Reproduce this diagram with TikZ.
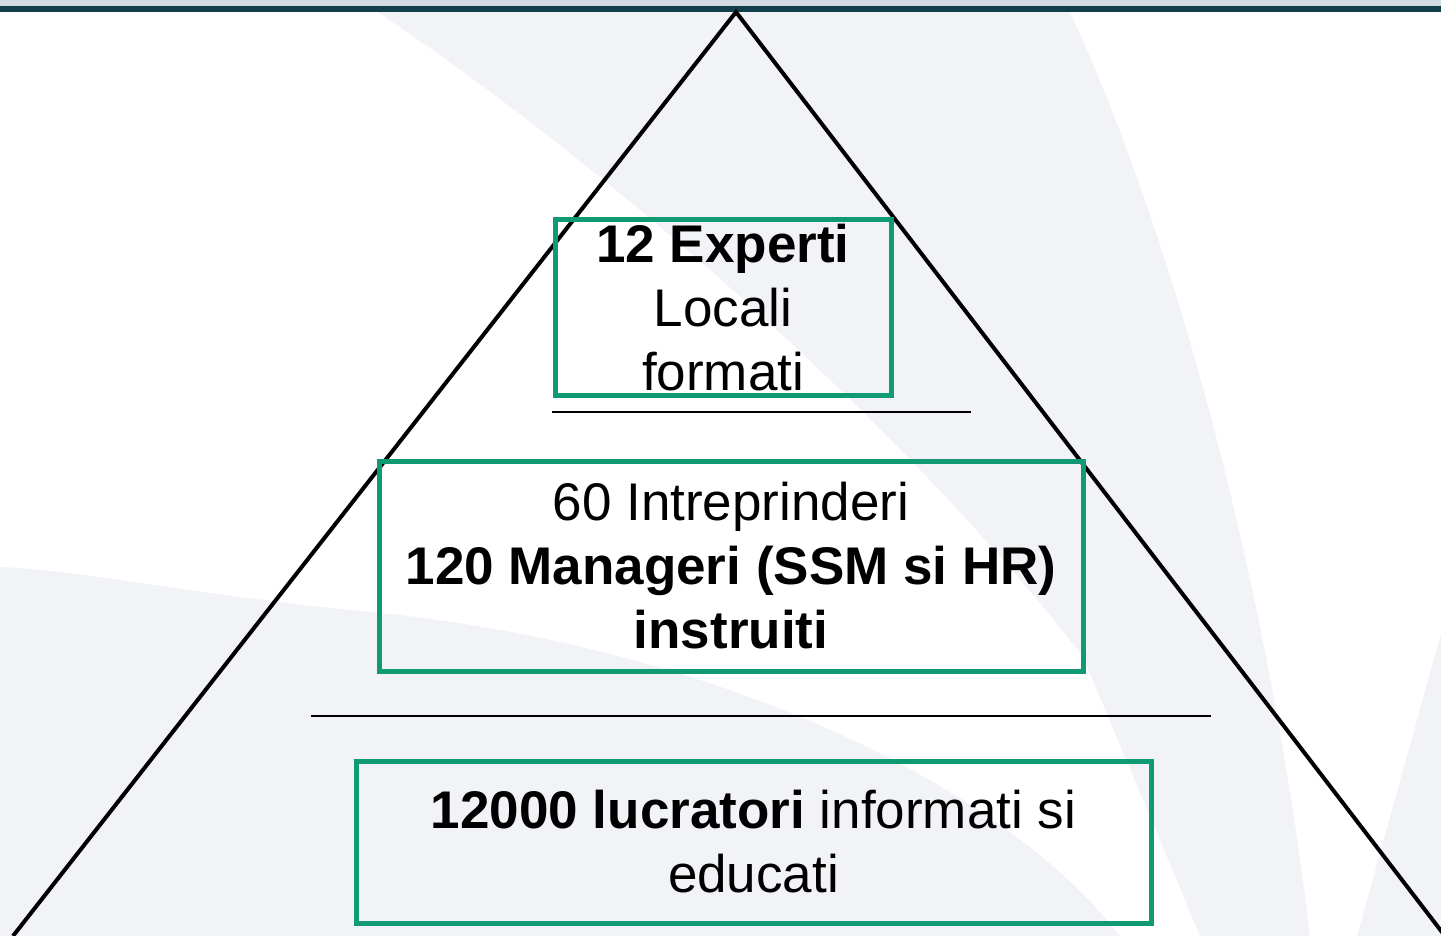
\documentclass[tikz,border=0pt]{standalone}
\usepackage{fontspec}
\setmainfont{Liberation Sans}
\usetikzlibrary{positioning}

\definecolor{boxgreen}{HTML}{0F9A73}
\definecolor{barteal}{HTML}{123F4C}
\definecolor{barlight}{HTML}{D3DBE2}
\definecolor{swoosh}{HTML}{F2F3F7}

\tikzset{
  tierbox/.style={draw=boxgreen, line width=5pt, inner sep=0pt, align=center,
    font=\fontsize{53}{64}\selectfont},
  sepline/.style={line width=2pt},
  pyramid/.style={line width=4pt, line join=miter}
}

\begin{document}
\begin{tikzpicture}[x=1pt,y=-1pt]
    \useasboundingbox (0,0) rectangle (1441,936);
    % background swoosh
    \fill[swoosh] (0,0) rectangle (1441,936);
    \fill[white] (0,12) -- (377,12) .. controls (600,160) and (900,420) .. (1083,657)
      -- (1200,936) -- (1120,936) .. controls (1000,780) and (700,640) .. (350,610)
      .. controls (200,595) and (80,570) .. (0,567) -- cycle;
    \fill[white] (1070,12) -- (1441,12) -- (1441,633) -- (1357,936) -- (1310,936)
      .. controls (1270,600) and (1180,250) .. (1070,12) -- cycle;
    \fill[barlight] (0,0) rectangle (1441,6);
    \fill[barteal] (0,6) rectangle (1441,12.5);

    % pyramid
    \coordinate (apex) at (736,12);
    \coordinate (baseL) at (13,936);
    \coordinate (baseR) at (1445,936);
    \draw[pyramid] (baseL) -- (apex) -- (baseR);

    % tiers
    \node[tierbox, minimum width=336pt, minimum height=175pt] (experts) at (723,307.5)
      {\textbf{12 Experti}\\Locali\\formati};
    \node[tierbox, minimum width=704pt, minimum height=210pt] (managers) at (731,566)
      {60 Intreprinderi\\\textbf{120 Manageri (SSM si HR)}\\\textbf{instruiti}};
    \node[tierbox, minimum width=795pt, minimum height=162pt] (workers) at (753.5,842)
      {\textbf{12000 lucratori} informati si\\educati};

    % separators
    \coordinate (sepOneL) at (552,412);
    \coordinate (sepOneR) at (971,412);
    \coordinate (sepTwoL) at (311,716);
    \coordinate (sepTwoR) at (1211,716);
    \draw[sepline] (sepOneL) -- (sepOneR);
    \draw[sepline] (sepTwoL) -- (sepTwoR);
\end{tikzpicture}
\end{document}
